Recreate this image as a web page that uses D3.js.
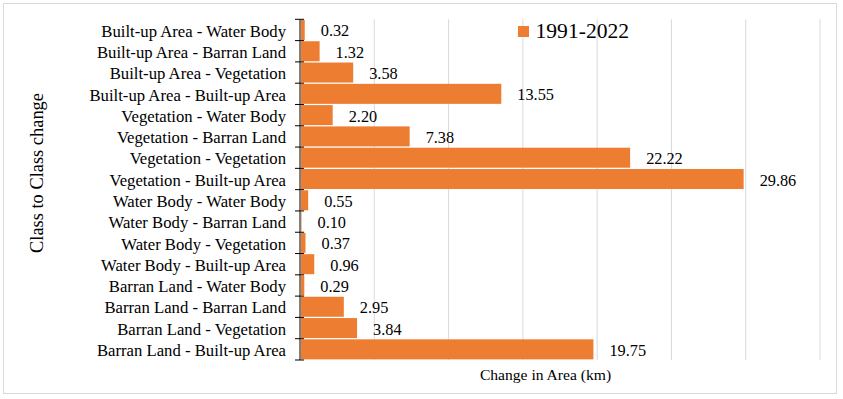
<!DOCTYPE html>
<meta charset="utf-8">
<head>
  <script src="https://d3js.org/d3.v7.min.js"></script>
  <style>
    body { margin: 0; background: #fff; }
    text { font-family: "Liberation Serif", "Times New Roman", serif; fill: #000; }
  </style>
</head>
<body>
  <svg id="chart" width="843" height="399"></svg>
  <script>
    var categories = [
      "Built-up Area - Water Body", "Built-up Area - Barran Land", "Built-up Area - Vegetation",
      "Built-up Area - Built-up Area", "Vegetation - Water Body", "Vegetation - Barran Land",
      "Vegetation - Vegetation", "Vegetation - Built-up Area", "Water Body - Water Body",
      "Water Body - Barran Land", "Water Body - Vegetation", "Water Body - Built-up Area",
      "Barran Land - Water Body", "Barran Land - Barran Land", "Barran Land - Vegetation",
      "Barran Land - Built-up Area"
    ];
    var values = [0.32, 1.32, 3.58, 13.55, 2.20, 7.38, 22.22, 29.86, 0.55, 0.10, 0.37, 0.96, 0.29, 2.95, 3.84, 19.75];
    var seriesName = "1991-2022";
    var xTicks = [5, 10, 15, 20, 25, 30, 35];

    var svg = d3.select("#chart");

    // outer frame
    svg.append("rect")
      .attr("x", 3.5).attr("y", 3.5)
      .attr("width", 833).attr("height", 390)
      .attr("fill", "#fff")
      .attr("stroke", "#d9d9d9");

    var x = d3.scaleLinear().domain([0, 35]).range([300, 820]);
    var y = d3.scaleBand().domain(categories).range([19.3, 360]).paddingInner(0.06).paddingOuter(0.03);
    var step = y.step();

    // gridlines
    svg.append("g").selectAll("line")
      .data(xTicks)
      .enter().append("line")
        .attr("x1", function(d) { return x(d); })
        .attr("x2", function(d) { return x(d); })
        .attr("y1", 19.3)
        .attr("y2", 360)
        .attr("stroke", "#d9d9d9")
        .attr("stroke-width", 1);

    // bars
    svg.append("g").selectAll("rect")
      .data(values)
      .enter().append("rect")
        .attr("x", x(0) + 1)
        .attr("y", function(d, i) { return y(categories[i]); })
        .attr("width", function(d) { return x(d) - x(0) - 1; })
        .attr("height", y.bandwidth())
        .attr("fill", "#ed7d31");

    // value labels
    svg.append("g").selectAll("text")
      .data(values)
      .enter().append("text")
        .attr("x", function(d) { return x(d) + 16; })
        .attr("y", function(d, i) { return y(categories[i]) + y.bandwidth() / 2; })
        .attr("dy", "0.4em")
        .style("font-size", "16.3px")
        .text(function(d) { return d.toFixed(2); });

    // category axis
    var yAxis = d3.axisLeft(y).tickSize(0).tickPadding(14);
    var gy = svg.append("g")
      .attr("transform", "translate(" + x(0) + ",0)")
      .call(yAxis);
    gy.select(".domain").remove();
    gy.selectAll("text")
      .style("font-size", "16.7px")
      .style("font-family", "'Liberation Serif', 'Times New Roman', serif")
      .attr("dy", "0.4em");

    svg.append("line")
      .attr("x1", x(0)).attr("x2", x(0))
      .attr("y1", 19.3).attr("y2", 360)
      .attr("stroke", "#000");

    var bounds = d3.range(categories.length + 1).map(function(i) { return 19.3 + i * (340.7 / categories.length); });
    svg.append("g").selectAll("line")
      .data(bounds)
      .enter().append("line")
        .attr("x1", x(0) - 5).attr("x2", x(0) + 4)
        .attr("y1", function(d) { return d; })
        .attr("y2", function(d) { return d; })
        .attr("stroke", "#000");

    // axis titles
    svg.append("text")
      .attr("transform", "translate(43,173) rotate(-90)")
      .attr("text-anchor", "middle")
      .style("font-size", "18.4px")
      .text("Class to Class change");

    svg.append("text")
      .attr("x", 545.5)
      .attr("y", 380)
      .attr("text-anchor", "middle")
      .style("font-size", "15.6px")
      .text("Change in Area (km)");

    // legend
    var legend = svg.append("g").attr("transform", "translate(518,26)");
    legend.append("rect")
      .attr("width", 11).attr("height", 11)
      .attr("fill", "#ed7d31");
    legend.append("text")
      .attr("x", 17.5)
      .attr("y", 11.5)
      .style("font-size", "21.6px")
      .text(seriesName);
  </script>
</body>
</html>
